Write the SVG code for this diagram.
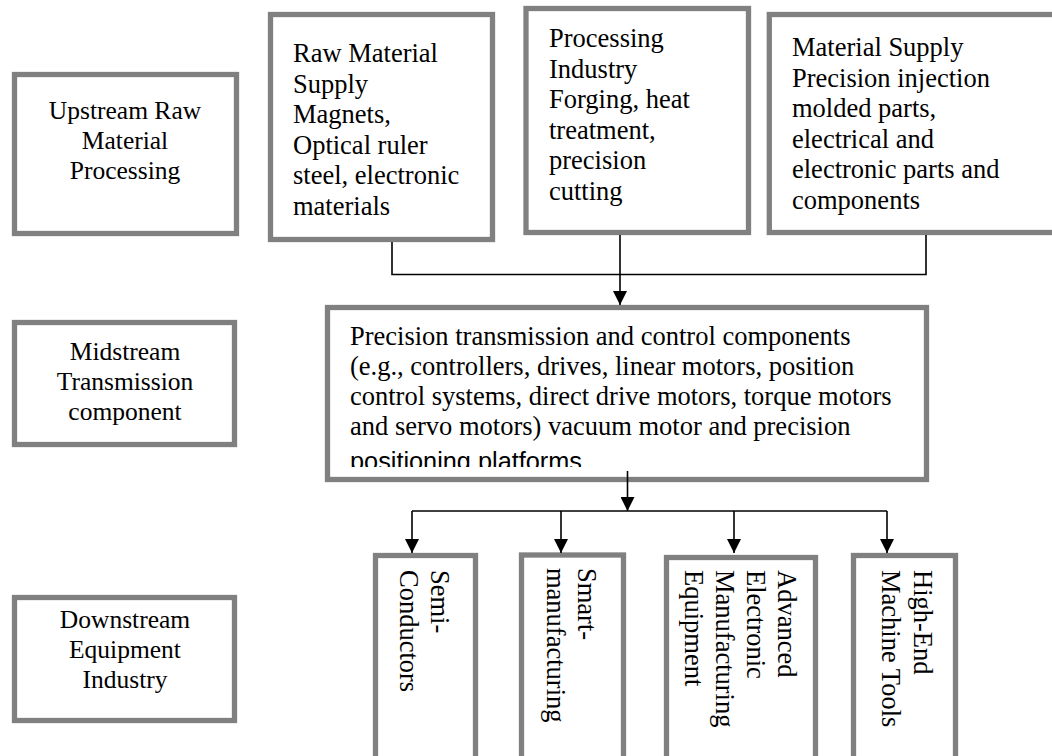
<svg xmlns="http://www.w3.org/2000/svg" width="1052" height="756" viewBox="0 0 1052 756">
<style>
.box{fill:#fff;stroke:#808080;stroke-width:5.3}
.t{font-family:"Liberation Serif","Times New Roman",serif;font-size:26.5px;fill:#000}
.c{text-anchor:middle;font-size:25.5px}
.s{font-family:"Liberation Sans",Arial,sans-serif;font-size:25px;fill:#000}
.ln{fill:none;stroke:#000;stroke-width:1.6}
</style>
<defs>
<marker id="ah" markerUnits="userSpaceOnUse" markerWidth="14" markerHeight="14" refX="14" refY="7" orient="auto">
<path d="M0,0 L14,7 L0,14 Z" fill="#000"/>
</marker>
<clipPath id="midclip"><rect x="330" y="310" width="595" height="157"/></clipPath>
</defs>
<rect width="1052" height="756" fill="#fff"/>

<g id="upstream">
<rect class="box" x="14.5" y="74.5" width="222" height="159"/>
<text class="t c" x="125"><tspan x="125" y="119">Upstream Raw</tspan><tspan x="125" y="149">Material</tspan><tspan x="125" y="179">Processing</tspan></text>
</g>

<g id="raw-material">
<rect class="box" x="270.5" y="14.5" width="222" height="225"/>
<text class="t"><tspan x="293" y="62">Raw Material</tspan><tspan x="293" y="92.5">Supply</tspan><tspan x="293" y="123">Magnets,</tspan><tspan x="293" y="153.5">Optical ruler</tspan><tspan x="293" y="184">steel, electronic</tspan><tspan x="293" y="214.5">materials</tspan></text>
</g>

<g id="processing">
<rect class="box" x="526" y="8.5" width="222.5" height="224"/>
<text class="t"><tspan x="549" y="47">Processing</tspan><tspan x="549" y="77.5">Industry</tspan><tspan x="549" y="108">Forging, heat</tspan><tspan x="549" y="138.5">treatment,</tspan><tspan x="549" y="169">precision</tspan><tspan x="549" y="199.5">cutting</tspan></text>
</g>

<g id="material-supply">
<rect class="box" x="769.3" y="14.5" width="300" height="218"/>
<text class="t"><tspan x="792" y="56">Material Supply</tspan><tspan x="792" y="86.5">Precision injection</tspan><tspan x="792" y="117">molded parts,</tspan><tspan x="792" y="147.5">electrical and</tspan><tspan x="792" y="178">electronic parts and</tspan><tspan x="792" y="208.5">components</tspan></text>
</g>

<g id="midstream">
<rect class="box" x="14.5" y="322.5" width="220" height="122"/>
<text class="t c"><tspan x="125" y="360">Midstream</tspan><tspan x="125" y="390">Transmission</tspan><tspan x="125" y="420">component</tspan></text>
</g>

<g id="precision-components">
<rect class="box" x="327.5" y="307.5" width="599" height="172"/>
<g clip-path="url(#midclip)">
<text class="t"><tspan x="350" y="345">Precision transmission and control components</tspan><tspan x="350" y="375">(e.g., controllers, drives, linear motors, position</tspan><tspan x="350" y="405">control systems, direct drive motors, torque motors</tspan><tspan x="350" y="435">and servo motors) vacuum motor and precision</tspan></text>
<text class="s" x="350" y="470" textLength="232" lengthAdjust="spacingAndGlyphs">positioning platforms</text>
</g>
</g>

<g id="downstream">
<rect class="box" x="14.5" y="597.5" width="220" height="123"/>
<text class="t c"><tspan x="125" y="628">Downstream</tspan><tspan x="125" y="658">Equipment</tspan><tspan x="125" y="688">Industry</tspan></text>
</g>

<g id="semiconductors">
<rect class="box" x="375.5" y="555.5" width="100" height="210"/>
<text class="t" transform="translate(431,570) rotate(90)"><tspan x="0" y="0">Semi-</tspan><tspan x="0" y="31">Conductors</tspan></text>
</g>

<g id="smart-manufacturing">
<rect class="box" x="521.5" y="555" width="102" height="210"/>
<text class="t" transform="translate(578,568) rotate(90)"><tspan x="0" y="0">Smart-</tspan><tspan x="0" y="31">manufacturing</tspan></text>
</g>

<g id="advanced-electronic">
<rect class="box" x="666.5" y="557.5" width="149" height="210"/>
<text class="t" transform="translate(778,570) rotate(90)"><tspan x="0" y="0">Advanced</tspan><tspan x="0" y="31">Electronic</tspan><tspan x="0" y="62">Manufacturing</tspan><tspan x="0" y="93">Equipment</tspan></text>
</g>

<g id="high-end-machine-tools">
<rect class="box" x="853.5" y="555.5" width="102" height="210"/>
<text class="t" transform="translate(914,570) rotate(90)"><tspan x="0" y="0">High-End</tspan><tspan x="0" y="32">Machine Tools</tspan></text>
</g>

<g id="connectors">
<path class="ln" d="M392,242 V274.5 H926 V235"/>
<path class="ln" d="M620,235 V305" marker-end="url(#ah)"/>
<path class="ln" d="M627.5,471 V511" marker-end="url(#ah)"/>
<path class="ln" d="M412,511 H887"/>
<path class="ln" d="M412,511 V553" marker-end="url(#ah)"/>
<path class="ln" d="M561,511 V553" marker-end="url(#ah)"/>
<path class="ln" d="M734,511 V553" marker-end="url(#ah)"/>
<path class="ln" d="M887,511 V553" marker-end="url(#ah)"/>
</g>
</svg>
